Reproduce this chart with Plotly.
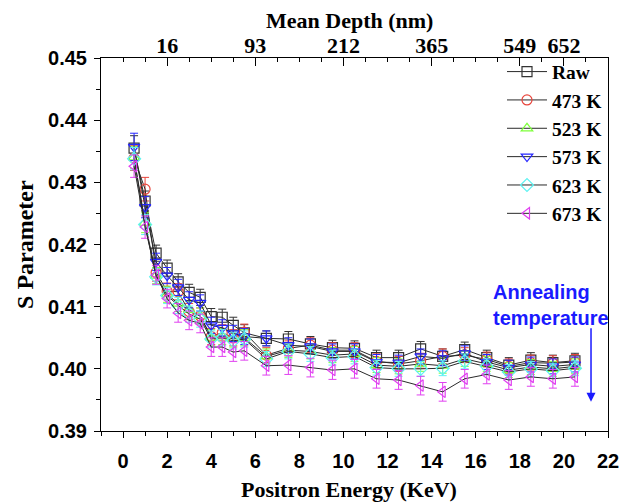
import plotly.graph_objects as go

energy = [0.5, 1, 1.5, 2, 2.5, 3, 3.5, 4, 4.5, 5, 5.5, 6.5, 7.5, 8.5, 9.5, 10.5,
          11.5, 12.5, 13.5, 14.5, 15.5, 16.5, 17.5, 18.5, 19.5, 20.5]

s_raw = [0.4355, 0.4270, 0.4186, 0.4162, 0.4140, 0.4123, 0.4115, 0.4084, 0.4083, 0.4070, 0.4058,
         0.4049, 0.4048, 0.4040, 0.4034, 0.4033, 0.4018, 0.4018, 0.4032, 0.4020, 0.4031, 0.4018,
         0.4006, 0.4014, 0.4010, 0.4013]
s_473 = [0.4339, 0.4289, 0.4155, 0.4125, 0.4124, 0.4092, 0.4085, 0.4052, 0.4058, 0.4050, 0.4059,
         0.4022, 0.4033, 0.4038, 0.4030, 0.4030, 0.4012, 0.4008, 0.4013, 0.4020, 0.4022, 0.4015,
         0.4004, 0.4010, 0.4009, 0.4011]
s_523 = [0.4340, 0.4235, 0.4150, 0.4120, 0.4105, 0.4095, 0.4085, 0.4050, 0.4052, 0.4048, 0.4050,
         0.4020, 0.4030, 0.4028, 0.4022, 0.4024, 0.4006, 0.4004, 0.4008, 0.4005, 0.4016, 0.4008,
         0.3998, 0.4003, 0.4000, 0.4004]
s_573 = [0.4357, 0.4260, 0.4172, 0.4150, 0.4131, 0.4111, 0.4106, 0.4070, 0.4066, 0.4057, 0.4052,
         0.4049, 0.4038, 0.4036, 0.4028, 0.4028, 0.4011, 0.4010, 0.4020, 0.4017, 0.4025, 0.4011,
         0.4002, 0.4007, 0.4004, 0.4007]
s_623 = [0.4338, 0.4232, 0.4148, 0.4118, 0.4102, 0.4088, 0.4080, 0.4048, 0.4050, 0.4045, 0.4048,
         0.4016, 0.4028, 0.4024, 0.4018, 0.4020, 0.4002, 0.4000, 0.4000, 0.4001, 0.4012, 0.4004,
         0.3995, 0.4000, 0.3997, 0.4001]
s_673 = [0.4326, 0.4228, 0.4151, 0.4113, 0.4090, 0.4078, 0.4073, 0.4035, 0.4035, 0.4027, 0.4029,
         0.4005, 0.4006, 0.4002, 0.3998, 0.4000, 0.3984, 0.3982, 0.3973, 0.3963, 0.3984, 0.3991,
         0.3982, 0.3987, 0.3984, 0.3987]

err_raw = [0.0020, 0.0016, 0.0013, 0.0013, 0.0013, 0.0013, 0.0013, 0.0013, 0.0013, 0.0013, 0.0013,
           0.0012, 0.0012, 0.0012, 0.0012, 0.0012, 0.0012, 0.0012, 0.0012, 0.0012, 0.0012, 0.0012,
           0.0012, 0.0012, 0.0012, 0.0012]
err_473 = [0.0020, 0.0019, 0.0014, 0.0013, 0.0013, 0.0013, 0.0013, 0.0013, 0.0013, 0.0013, 0.0013,
           0.0012, 0.0012, 0.0012, 0.0012, 0.0012, 0.0012, 0.0012, 0.0012, 0.0012, 0.0012, 0.0012,
           0.0012, 0.0012, 0.0012, 0.0012]
err_523 = [0.0018, 0.0016, 0.0013, 0.0013, 0.0013, 0.0013, 0.0013, 0.0013, 0.0013, 0.0013, 0.0013,
           0.0012, 0.0012, 0.0012, 0.0012, 0.0012, 0.0012, 0.0012, 0.0012, 0.0012, 0.0012, 0.0012,
           0.0012, 0.0012, 0.0012, 0.0012]
err_573 = [0.0022, 0.0017, 0.0014, 0.0013, 0.0013, 0.0013, 0.0013, 0.0013, 0.0013, 0.0013, 0.0013,
           0.0012, 0.0012, 0.0012, 0.0012, 0.0012, 0.0012, 0.0012, 0.0012, 0.0012, 0.0012, 0.0012,
           0.0012, 0.0012, 0.0012, 0.0012]
err_623 = [0.0018, 0.0016, 0.0013, 0.0013, 0.0013, 0.0013, 0.0013, 0.0013, 0.0013, 0.0013, 0.0013,
           0.0012, 0.0012, 0.0012, 0.0012, 0.0012, 0.0012, 0.0012, 0.0012, 0.0012, 0.0012, 0.0012,
           0.0012, 0.0012, 0.0012, 0.0012]
err_673 = [0.0018, 0.0018, 0.0015, 0.0015, 0.0015, 0.0015, 0.0015, 0.0015, 0.0015, 0.0015, 0.0015,
           0.0015, 0.0015, 0.0015, 0.0015, 0.0015, 0.0015, 0.0015, 0.0015, 0.0015, 0.0015, 0.0015,
           0.0015, 0.0015, 0.0015, 0.0015]

series_names = ["Raw", "473 K", "523 K", "573 K", "623 K", "673 K"]
depth_ticks = [2, 6, 10, 14, 18, 20]
depth_labels = ["16", "93", "212", "365", "549", "652"]

values = [s_raw, s_473, s_523, s_573, s_623, s_673]
errors = [err_raw, err_473, err_523, err_573, err_623, err_673]
colors = ["#333333", "#e8453c", "#7dff3a", "#2626ff", "#5ef2f2", "#e040f0"]
symbols = ["square-open", "circle-open", "triangle-up-open", "triangle-down-open",
           "diamond-open", "triangle-left-open"]

fig = go.Figure()
for name, ys, es, c, sym in zip(series_names, values, errors, colors, symbols):
    fig.add_trace(go.Scatter(
        x=energy, y=ys, name=name, mode="lines+markers",
        line=dict(color="#2a2a2a", width=1),
        marker=dict(symbol=sym, size=10, color=c, line=dict(color=c, width=1.2)),
        error_y=dict(type="data", array=es, color=c, thickness=1, width=4),
    ))

fig.add_trace(go.Scatter(x=[None], y=[None], xaxis="x2", showlegend=False, hoverinfo="skip"))

tickfont_sans = dict(family="Liberation Sans", size=20, color="black", weight="bold")
serif = "Liberation Serif"

# page body has an ~8px default margin, so the figure is sized to fit the window
fig.update_layout(
    width=627, height=495,
    margin=dict(l=93, r=27, t=50, b=72),
    paper_bgcolor="white", plot_bgcolor="white",
    showlegend=True,
    legend=dict(x=1, xanchor="right", y=1.015, yanchor="top", bgcolor="rgba(0,0,0,0)",
                font=dict(family=serif, size=19.5, color="black", weight="bold"),
                tracegroupgap=0, itemwidth=40),
    xaxis=dict(range=[-1, 22], tickvals=[0, 2, 4, 6, 8, 10, 12, 14, 16, 18, 20, 22],
               ticks="outside", ticklen=6, tickwidth=1, tickcolor="black",
               minor=dict(tickvals=[-1, 1, 3, 5, 7, 9, 11, 13, 15, 17, 19, 21],
                          ticks="outside", ticklen=4, tickcolor="black"),
               showline=True, linecolor="black", linewidth=1, mirror=True,
               showgrid=False, zeroline=False, tickfont=tickfont_sans,
               ticklabelstandoff=6, automargin=False),
    xaxis2=dict(range=[-1, 22], overlaying="x", side="top", anchor="y",
                tickvals=depth_ticks, ticktext=depth_labels,
                ticks="inside", ticklen=8, tickwidth=1, tickcolor="black",
                minor=dict(tickvals=[0, 1, 3, 4, 5, 7, 8, 9, 11, 12, 13, 15, 16, 17, 19, 21],
                           ticks="inside", ticklen=4, tickcolor="black"),
                showline=True, linecolor="black", linewidth=1,
                showgrid=False, zeroline=False,
                tickfont=dict(family=serif, size=22, color="black", weight="bold"),
                ticklabelstandoff=-5, automargin=False),
    yaxis=dict(range=[0.39, 0.45], dtick=0.01, tick0=0.39, tickformat=".2f",
               ticks="outside", ticklen=6, tickwidth=1, tickcolor="black",
               minor=dict(dtick=0.005, ticks="outside", ticklen=4, tickcolor="black"),
               showline=True, linecolor="black", linewidth=1, mirror=True,
               showgrid=False, zeroline=False, tickfont=tickfont_sans,
               ticklabelstandoff=3, automargin=False),
    annotations=[
        dict(text="<b>Mean Depth (nm)</b>", xref="paper", yref="paper", x=0.49, y=1.1,
             showarrow=False, font=dict(family=serif, size=22, color="black"),
             xanchor="center", yanchor="middle"),
        dict(text="<b>Positron Energy (KeV)</b>", xref="paper", yref="paper", x=0.49, y=-0.158,
             showarrow=False, font=dict(family=serif, size=22, color="black"),
             xanchor="center", yanchor="middle"),
        dict(text="<b>S Parameter</b>", xref="paper", yref="paper", x=-0.151, y=0.5,
             showarrow=False, textangle=-90, font=dict(family=serif, size=24, color="black"),
             xanchor="center", yanchor="middle"),
        dict(text="<b>Annealing<br>temperature</b>", xref="paper", yref="paper",
             x=0.769, y=0.3365, xanchor="left", yanchor="middle", align="left",
             showarrow=False, font=dict(family="Liberation Sans", size=20, color="#1a1aff")),
        dict(text="", xref="paper", yref="paper", x=0.9665, y=0.0786,
             showarrow=True, ax=0, ay=-75, arrowhead=2, arrowsize=1.2, arrowwidth=1.5,
             arrowcolor="#1a1aff", standoff=0, startstandoff=0),
    ],
)

fig.write_html("out.html")
